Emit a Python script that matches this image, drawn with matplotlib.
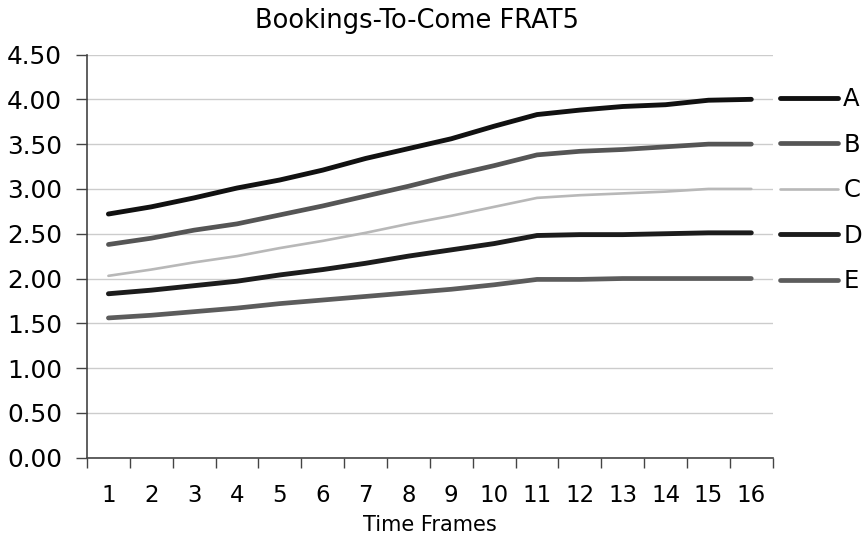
import numpy as np
import matplotlib
matplotlib.use('Agg')
import matplotlib.pyplot as plt
from matplotlib.ticker import FixedLocator

# FRAT5 curves per time frame
frames = list(range(1, 17))
series_a = [2.72, 2.80, 2.90, 3.01, 3.10, 3.21, 3.34, 3.45, 3.56, 3.70, 3.83, 3.88, 3.92, 3.94, 3.99, 4.00]
series_b = [2.38, 2.45, 2.54, 2.61, 2.71, 2.81, 2.92, 3.03, 3.15, 3.26, 3.38, 3.42, 3.44, 3.47, 3.50, 3.50]
series_c = [2.03, 2.10, 2.18, 2.25, 2.34, 2.42, 2.51, 2.61, 2.70, 2.80, 2.90, 2.93, 2.95, 2.97, 3.00, 3.00]
series_d = [1.83, 1.87, 1.92, 1.97, 2.04, 2.10, 2.17, 2.25, 2.32, 2.39, 2.48, 2.49, 2.49, 2.50, 2.51, 2.51]
series_e = [1.56, 1.59, 1.63, 1.67, 1.72, 1.76, 1.80, 1.84, 1.88, 1.93, 1.99, 1.99, 2.00, 2.00, 2.00, 2.00]
labels = ['A', 'B', 'C', 'D', 'E']
colors = ['#111111', '#555555', '#b8b8b8', '#1c1c1c', '#5c5c5c']
widths = [3.5, 3.4, 1.9, 3.5, 3.4]

plt.rcParams['font.family'] = ['DejaVu Sans']

fig = plt.figure(figsize=(8.63, 5.40), dpi=100)
ax = fig.add_axes([0.1008, 0.1524, 0.7946, 0.7466])

for vals, lab, col, lw in zip([series_a, series_b, series_c, series_d, series_e], labels, colors, widths):
    ax.plot(frames, vals, color=col, linewidth=lw, label=lab, solid_capstyle='round')

ax.set_xlim(0.5, 16.5)
ax.set_ylim(0, 4.5)
yt = np.arange(0, 4.51, 0.5)
ax.set_yticks(yt)
ax.set_yticklabels(['%.2f' % v for v in yt])
ax.set_xticks(frames)
ax.xaxis.set_minor_locator(FixedLocator(np.arange(0.5, 16.6, 1.0)))
ax.tick_params(axis='x', which='major', length=0, pad=19, labelsize=16.5)
ax.tick_params(axis='x', which='minor', length=7, width=1, color='#444444')
ax.tick_params(axis='y', length=8, width=1, color='#444444', labelsize=17.8, pad=10)

ax.grid(axis='y', color='#cccccc', linewidth=1)
ax.set_axisbelow(True)
for side in ['top', 'right']:
    ax.spines[side].set_visible(False)
for side in ['left', 'bottom']:
    ax.spines[side].set_color('#444444')
    ax.spines[side].set_linewidth(1.2)

ax.set_title('Bookings-To-Come FRAT5', fontsize=18.5, pad=19, x=0.481)
ax.set_xlabel('Time Frames', fontsize=15, labelpad=6)

ax.legend(loc='upper left', bbox_to_anchor=(780 / 863, 1 - 87.5 / 540),
          bbox_transform=fig.transFigure, frameon=False,
          fontsize=17.5, handlelength=2.4, handletextpad=0.2,
          labelspacing=0.88, borderaxespad=0, borderpad=0)

plt.savefig('out.png', dpi=100)
